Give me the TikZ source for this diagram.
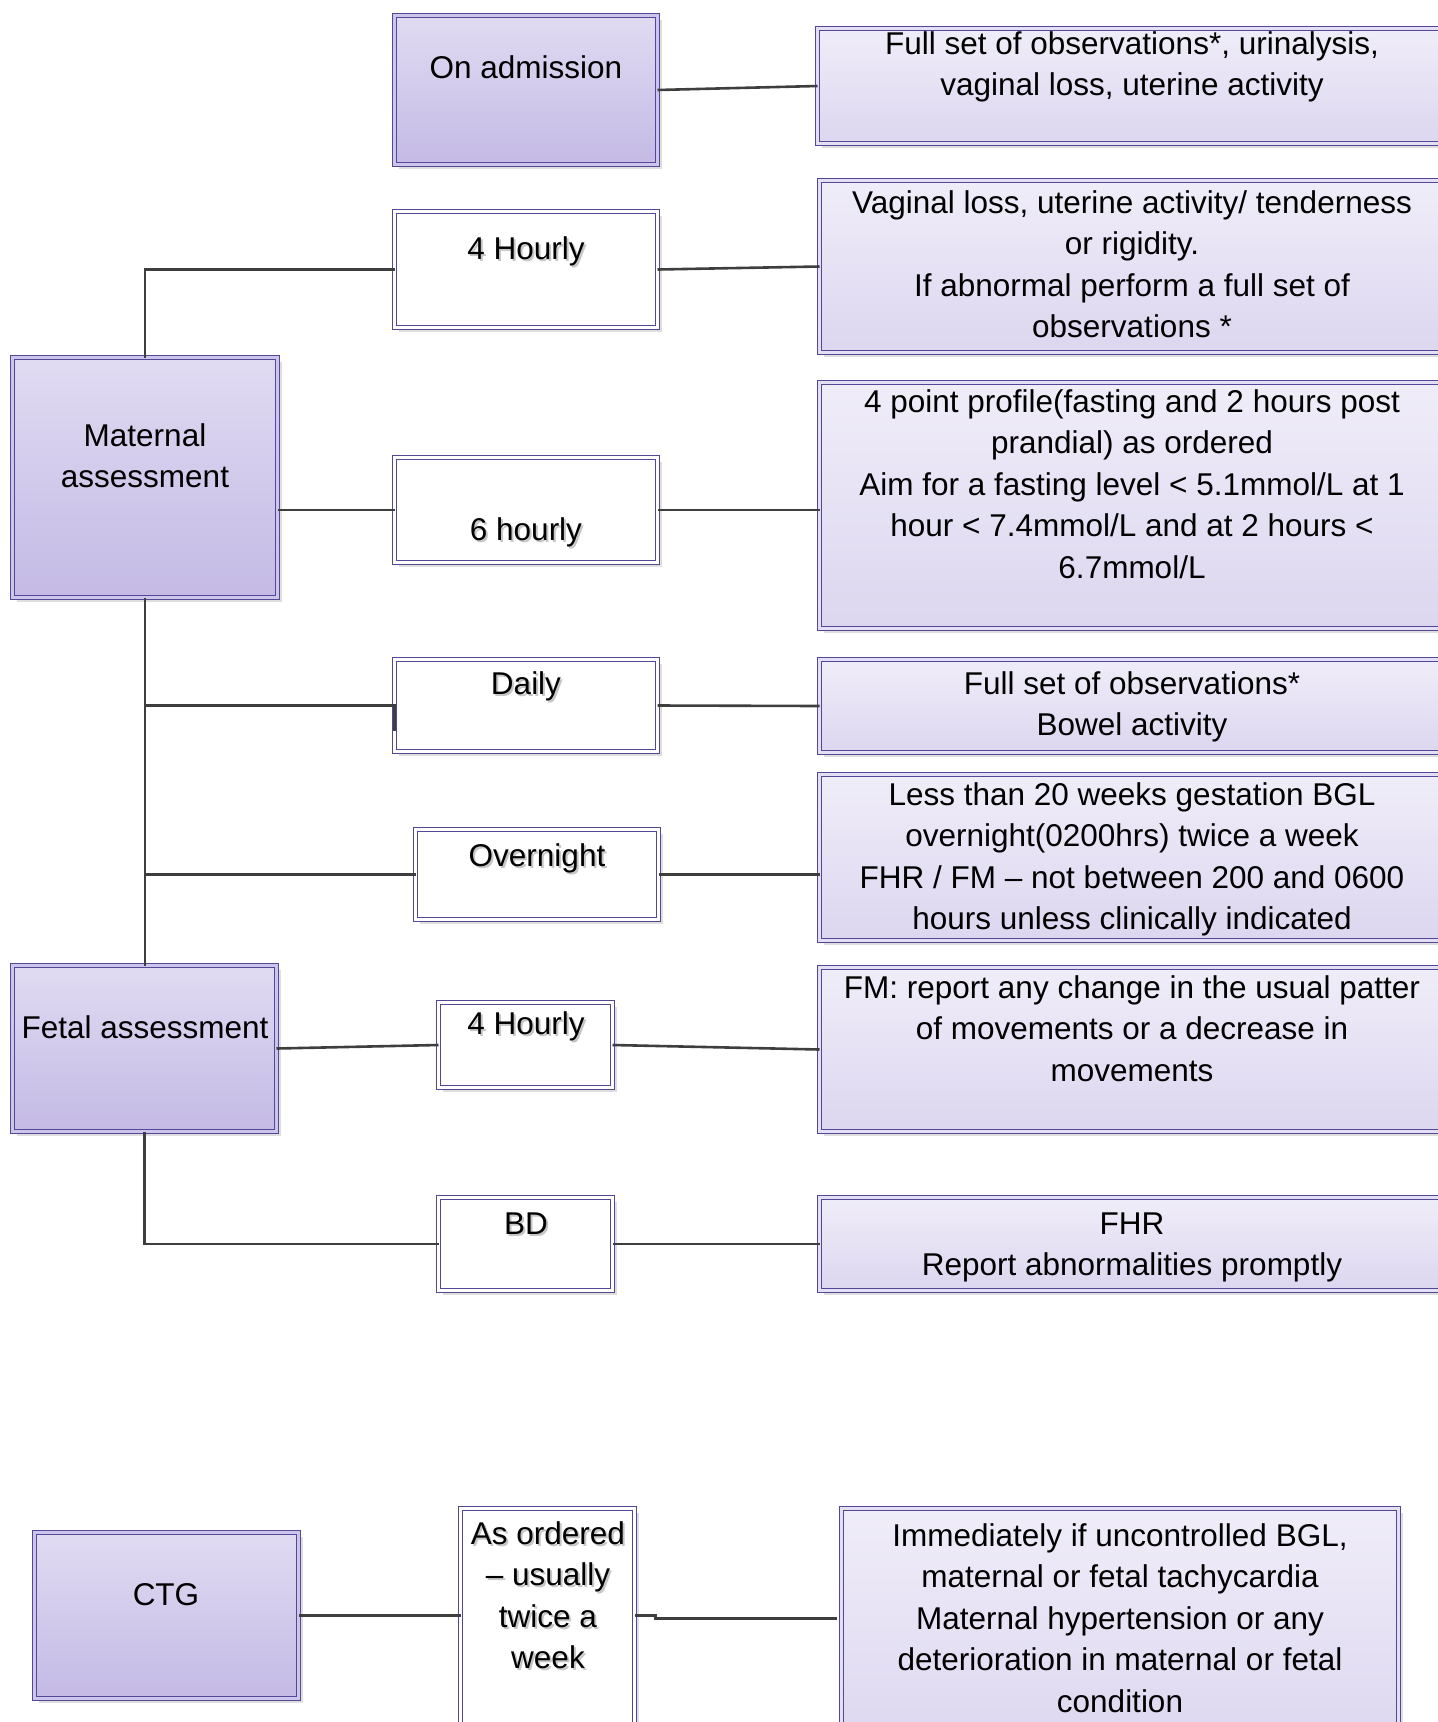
\documentclass[tikz,border=0pt]{standalone}
\usepackage{fontspec}
\setmainfont{Liberation Sans}
\usetikzlibrary{shadows}

\definecolor{edge}{RGB}{84,72,150}
\definecolor{ltop}{RGB}{224,219,242}
\definecolor{lbot}{RGB}{196,186,229}
\definecolor{lgap}{RGB}{205,197,235}
\definecolor{rtop}{RGB}{240,237,249}
\definecolor{rbot}{RGB}{220,214,239}
\definecolor{rgap}{RGB}{228,223,245}
\definecolor{boxshade}{RGB}{222,222,222}
\definecolor{tshadow}{RGB}{198,198,198}
\definecolor{lineclr}{RGB}{62,62,62}

\begin{document}
\begin{tikzpicture}[x=1pt,y=-1pt,
  box/.style={rectangle, inner sep=0pt, outer sep=0pt, draw=edge, line width=1.1pt,
    double distance=3.2pt,
    drop shadow={shadow xshift=4pt, shadow yshift=-4pt, fill=boxshade, opacity=1}},
  lbox/.style={box, double=lgap, top color=ltop, bottom color=lbot},
  rbox/.style={box, double=rgap, top color=rtop, bottom color=rbot},
  wbox/.style={box, double=white, fill=white},
  txt/.style={font=\fontsize{31.5}{41.5}\selectfont, align=center, inner sep=0pt, anchor=north},
  stxt/.style={txt, text=tshadow},
  conn/.style={draw=lineclr, line width=2.6pt}
]
\path[use as bounding box] (0,0) rectangle (1438,1722);
\clip (0,0) rectangle (1438,1722);

% ---------- boxes (sizes measured to the centre of the double border) ----------
\node[lbox, minimum width=263, minimum height=149] (adm) at (526,90) {};
\node[rbox, minimum width=627, minimum height=115] (r1) at (1131,86) {};
\node[wbox, minimum width=263, minimum height=116] (h4) at (526,269.5) {};
\node[rbox, minimum width=625, minimum height=172] (r2) at (1132,266.5) {};
\node[lbox, minimum width=265, minimum height=240] (mat) at (145,477.5) {};
\node[wbox, minimum width=263, minimum height=105] (h6) at (526,510) {};
\node[rbox, minimum width=625, minimum height=246] (r3) at (1132,505.5) {};
\node[wbox, minimum width=263, minimum height=92] (daily) at (526,705.5) {};
\node[rbox, minimum width=625, minimum height=93] (r4) at (1132,706) {};
\node[wbox, minimum width=243, minimum height=90] (ovn) at (537,874.5) {};
\node[rbox, minimum width=625, minimum height=166] (r5) at (1132,857.5) {};
\node[lbox, minimum width=264, minimum height=166] (fet) at (144.5,1048.5) {};
\node[wbox, minimum width=174, minimum height=85] (fh4) at (525.5,1045) {};
\node[rbox, minimum width=625, minimum height=164] (r6) at (1132,1049.5) {};
\node[wbox, minimum width=174, minimum height=93] (bd) at (525.5,1244) {};
\node[rbox, minimum width=625, minimum height=93] (r7) at (1132,1244) {};
\node[lbox, minimum width=264, minimum height=166] (ctg) at (166.5,1615.5) {};
\node[wbox, minimum width=174, minimum height=249] (ord) at (547.5,1633) {};
\node[rbox, minimum width=557, minimum height=249] (rctg) at (1120,1633) {};

% ---------- connectors ----------
\draw[conn] (adm.east) -- (r1.west);
\draw[conn] (mat.north) |- (h4.west);
\draw[conn] (h4.east) -- (r2.west);
\draw[conn] (mat.east |- h6.west) -- (h6.west);
\draw[conn] (h6.east) -- (r3.west |- h6.east);
\draw[conn] (mat.south) -- (mat.south |- fet.north);
\draw[conn] (mat.south |- daily.west) -- (daily.west) -- ++(0,25);
\draw[conn] (daily.east) -- (r4.west);
\draw[conn] (mat.south |- ovn.west) -- (ovn.west);
\draw[conn] (ovn.east) -- (r5.west |- ovn.east);
\draw[conn] (fet.east) -- (fh4.west);
\draw[conn] (fh4.east) -- (r6.west);
\draw[conn] (fet.south) |- (bd.west);
\draw[conn] (bd.east) -- (r7.west);
\draw[conn] (ctg.east) -- (ord.west |- ctg.east);
\draw[conn] (ord.east |- ctg.east) -- ++(21,0) -- ++(0,3) -- ++(181,0);

% ---------- labels of the main boxes ----------
\node[txt] (adm-t) at (526,49) {\strut On admission};
\node[txt] (mat-t) at (145,417) {\strut Maternal\\assessment};
\node[txt] (fet-t) at (145,1009) {\strut Fetal assessment};
\node[txt] (ctg-t) at (166,1576) {\strut CTG};

% ---------- labels of the timing boxes (with a soft text shadow) ----------
\node[stxt] (h4-s) at (528,232) {\strut 4 Hourly};
\node[txt] (h4-t) at (526,230) {\strut 4 Hourly};
\node[stxt] (h6-s) at (528,513) {\strut 6 hourly};
\node[txt] (h6-t) at (526,511) {\strut 6 hourly};
\node[stxt] (daily-s) at (528,667) {\strut Daily};
\node[txt] (daily-t) at (526,665) {\strut Daily};
\node[stxt] (ovn-s) at (539,839) {\strut Overnight};
\node[txt] (ovn-t) at (537,837) {\strut Overnight};
\node[stxt] (fh4-s) at (528,1007) {\strut 4 Hourly};
\node[txt] (fh4-t) at (526,1005) {\strut 4 Hourly};
\node[stxt] (bd-s) at (528,1207) {\strut BD};
\node[txt] (bd-t) at (526,1205) {\strut BD};
\node[stxt] (ord-s) at (550,1517) {\strut As ordered\\-- usually\\twice a\\week};
\node[txt] (ord-t) at (548,1515) {\strut As ordered\\-- usually\\twice a\\week};

% ---------- labels of the detail boxes ----------
\node[txt] (r1-t) at (1132,25) {\strut Full set of observations*, urinalysis,\\vaginal loss, uterine activity};
\node[txt] (r2-t) at (1132,184) {\strut Vaginal loss, uterine activity/ tenderness\\or rigidity.\\If abnormal perform a full set of\\observations *};
\node[txt] (r3-t) at (1132,383) {\strut 4 point profile(fasting and 2 hours post\\prandial) as ordered\\Aim for a fasting level < 5.1mmol/L at 1\\hour < 7.4mmol/L and at 2 hours <\\6.7mmol/L};
\node[txt] (r4-t) at (1132,665) {\strut Full set of observations*\\Bowel activity};
\node[txt] (r5-t) at (1132,776) {\strut Less than 20 weeks gestation BGL\\overnight(0200hrs) twice a week\\FHR / FM -- not between 200 and 0600\\hours unless clinically indicated};
\node[txt] (r6-t) at (1132,969) {\strut FM: report any change in the usual patter\\of movements or a decrease in\\movements};
\node[txt] (r7-t) at (1132,1205) {\strut FHR\\Report abnormalities promptly};
\node[txt] (rctg-t) at (1120,1517) {\strut Immediately if uncontrolled BGL,\\maternal or fetal tachycardia\\Maternal hypertension or any\\deterioration in maternal or fetal\\condition};
\end{tikzpicture}
\end{document}
